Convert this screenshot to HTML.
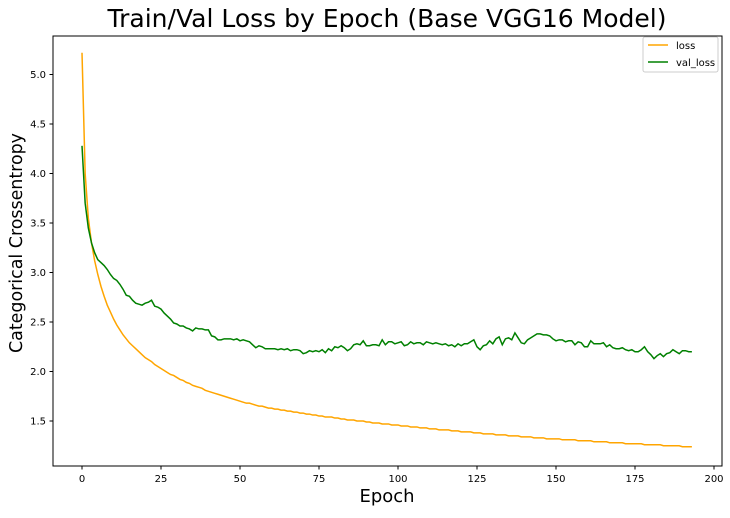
<!DOCTYPE html>
<html><head><meta charset="utf-8"><style>
body{margin:0;background:#fff;}
svg text{font-family:"DejaVu Sans","Liberation Sans",sans-serif;}
</style></head><body>
<svg id="chart" width="730" height="513" xmlns="http://www.w3.org/2000/svg">
<rect width="730" height="513" fill="#fff"/>
<text x="387" y="27" font-size="25" text-anchor="middle" textLength="559" lengthAdjust="spacingAndGlyphs">Train/Val Loss by Epoch (Base VGG16 Model)</text>
<text x="387" y="502" font-size="18" text-anchor="middle" textLength="55" lengthAdjust="spacingAndGlyphs">Epoch</text>
<text transform="translate(22,243) rotate(-90)" font-size="18" text-anchor="middle" textLength="220" lengthAdjust="spacingAndGlyphs">Categorical Crossentropy</text>
<g id="ticks"></g>
<g id="series"></g>
<rect x="53" y="36" width="669" height="430" fill="none" stroke="#000" stroke-width="1"/>
<g>
<rect x="643" y="37" width="75" height="35" fill="#fff" stroke="#ccc" rx="2"/>
<line x1="648" y1="45" x2="668" y2="45" stroke="orange" stroke-width="1.5"/>
<text x="676" y="49" font-size="10">loss</text>
<line x1="648" y1="62" x2="668" y2="62" stroke="green" stroke-width="1.5"/>
<text x="676" y="66" font-size="10">val_loss</text>
</g>
</svg>
<script>
const xTicks=[0,25,50,75,100,125,150,175,200];
const yTicks=[1.5,2.0,2.5,3.0,3.5,4.0,4.5,5.0];
const lossValues=[5.22,4.0,3.55,3.3,3.12,2.98,2.86,2.76,2.67,2.6,
2.53,2.47,2.42,2.37,2.33,2.29,2.26,2.23,2.2,2.17,
2.14,2.12,2.1,2.07,2.05,2.03,2.01,1.99,1.97,1.96,
1.94,1.92,1.91,1.89,1.88,1.86,1.85,1.84,1.83,1.81,
1.8,1.79,1.78,1.77,1.76,1.75,1.74,1.73,1.72,1.71,
1.7,1.69,1.68,1.68,1.67,1.66,1.65,1.65,1.64,1.63,
1.63,1.62,1.62,1.61,1.61,1.6,1.6,1.59,1.59,1.58,
1.58,1.57,1.57,1.56,1.56,1.55,1.55,1.54,1.54,1.54,
1.53,1.53,1.52,1.52,1.51,1.51,1.51,1.5,1.5,1.5,
1.49,1.49,1.48,1.48,1.48,1.47,1.47,1.47,1.46,1.46,
1.46,1.45,1.45,1.45,1.44,1.44,1.44,1.43,1.43,1.43,
1.42,1.42,1.42,1.41,1.41,1.41,1.41,1.4,1.4,1.4,
1.39,1.39,1.39,1.39,1.38,1.38,1.38,1.37,1.37,1.37,
1.37,1.36,1.36,1.36,1.36,1.35,1.35,1.35,1.35,1.34,
1.34,1.34,1.34,1.33,1.33,1.33,1.33,1.32,1.32,1.32,
1.32,1.32,1.31,1.31,1.31,1.31,1.31,1.3,1.3,1.3,
1.3,1.3,1.29,1.29,1.29,1.29,1.29,1.28,1.28,1.28,
1.28,1.28,1.27,1.27,1.27,1.27,1.27,1.27,1.26,1.26,
1.26,1.26,1.26,1.26,1.25,1.25,1.25,1.25,1.25,1.25,
1.24,1.24,1.24,1.24];
const valLossValues=[4.28,3.7,3.45,3.3,3.2,3.13,3.1,3.07,3.03,2.98,
2.94,2.92,2.88,2.83,2.77,2.76,2.72,2.69,2.68,2.67,
2.69,2.7,2.72,2.66,2.65,2.63,2.59,2.56,2.53,2.49,
2.48,2.46,2.46,2.44,2.43,2.41,2.44,2.43,2.43,2.42,
2.42,2.36,2.35,2.32,2.32,2.33,2.33,2.33,2.32,2.33,
2.31,2.32,2.31,2.3,2.27,2.24,2.26,2.25,2.23,2.23,
2.23,2.23,2.22,2.23,2.22,2.23,2.21,2.22,2.22,2.21,
2.18,2.19,2.21,2.2,2.21,2.2,2.22,2.19,2.23,2.21,
2.25,2.24,2.26,2.24,2.21,2.23,2.27,2.28,2.27,2.31,
2.26,2.26,2.27,2.27,2.26,2.32,2.27,2.3,2.3,2.28,
2.29,2.3,2.26,2.27,2.3,2.28,2.29,2.29,2.27,2.3,
2.29,2.28,2.29,2.28,2.27,2.28,2.26,2.27,2.25,2.28,
2.26,2.28,2.28,2.3,2.32,2.25,2.22,2.26,2.27,2.31,
2.28,2.33,2.35,2.27,2.33,2.34,2.32,2.39,2.34,2.29,
2.28,2.32,2.34,2.36,2.38,2.38,2.37,2.37,2.36,2.33,
2.31,2.32,2.32,2.3,2.31,2.31,2.27,2.3,2.29,2.25,
2.25,2.31,2.28,2.28,2.28,2.29,2.25,2.27,2.24,2.23,
2.23,2.24,2.22,2.21,2.22,2.2,2.2,2.22,2.25,2.2,
2.17,2.13,2.16,2.18,2.15,2.18,2.19,2.22,2.2,2.18,
2.21,2.21,2.2,2.2];
const NS="http://www.w3.org/2000/svg";
function xs(e){return 82+e*3.16;}
function ys(v){return 421-(v-1.5)*99;}
const tg=document.getElementById('ticks');
xTicks.forEach(t=>{
  const l=document.createElementNS(NS,'line');
  l.setAttribute('x1',xs(t));l.setAttribute('x2',xs(t));l.setAttribute('y1',466);l.setAttribute('y2',469.5);l.setAttribute('stroke','#000');
  
  
  tg.appendChild(l);
  const tx=document.createElementNS(NS,'text');
  tx.setAttribute('x',xs(t));tx.setAttribute('y',482);tx.setAttribute('font-size','10');tx.setAttribute('text-anchor','middle');
  tx.textContent=t;
  
  
  tg.appendChild(tx);
});
yTicks.forEach(t=>{
  const l=document.createElementNS(NS,'line');
  l.setAttribute('x1',49.5);l.setAttribute('x2',53);l.setAttribute('y1',ys(t));l.setAttribute('y2',ys(t));l.setAttribute('stroke','#000');
  
  
  tg.appendChild(l);
  const tx=document.createElementNS(NS,'text');
  tx.setAttribute('x',46);tx.setAttribute('y',ys(t)+3.5);tx.setAttribute('font-size','10');tx.setAttribute('text-anchor','end');
  tx.textContent=t.toFixed(1);
  
  
  tg.appendChild(tx);
});
const sg=document.getElementById('series');
function addLine(vals,color,name){
  const p=document.createElementNS(NS,'polyline');
  p.setAttribute('points',vals.map((v,i)=>xs(i).toFixed(2)+','+ys(v).toFixed(2)).join(' '));
  p.setAttribute('fill','none');p.setAttribute('stroke',color);p.setAttribute('stroke-width','1.5');
  
  
  sg.appendChild(p);
}
addLine(lossValues,'orange','loss-line');
addLine(valLossValues,'green','val-loss-line');
</script>
</body></html>
